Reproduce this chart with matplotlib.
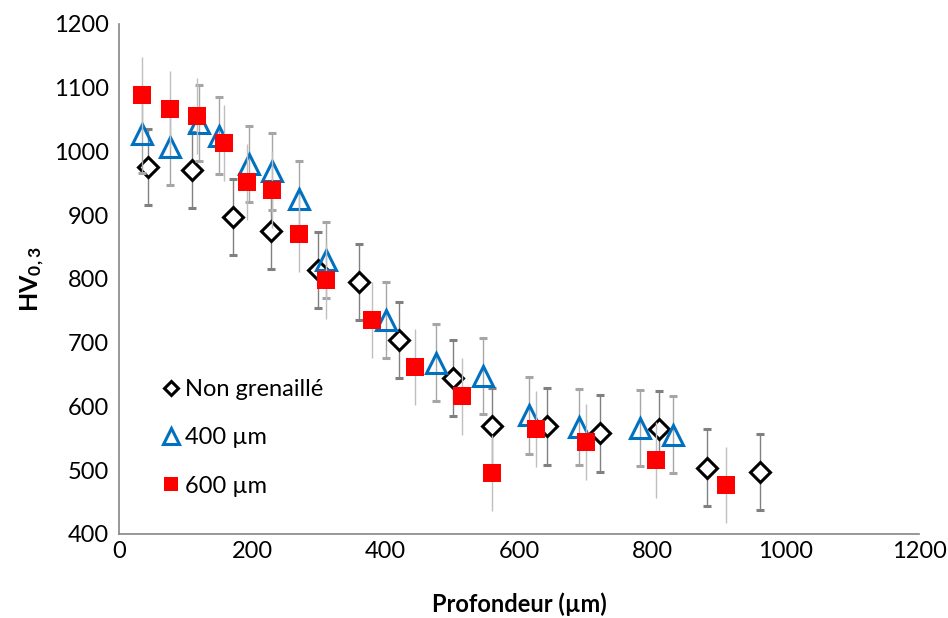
import matplotlib.pyplot as plt

plt.rcParams['font.family'] = ['Lato', 'DejaVu Sans']
plt.rcParams['mathtext.fontset'] = 'custom'
plt.rcParams['mathtext.rm'] = 'Lato'
plt.rcParams['mathtext.bf'] = 'Lato:bold'

# Non grenaillé
x_ng = [44, 110, 171, 228, 298, 360, 420, 501, 560, 642, 722, 810, 882, 962]
y_ng = [976, 971, 897, 875, 814, 795, 704, 645, 569, 569, 558, 565, 504, 497]
e_ng = [60, 60, 60, 60, 60, 60, 60, 60, 60, 60, 60, 60, 60, 60]

# 400 µm
x_400 = [35, 77, 120, 150, 195, 230, 270, 311, 401, 476, 546, 615, 690, 782, 831]
y_400 = [1027, 1007, 1045, 1025, 980, 969, 925, 830, 736, 669, 648, 586, 568, 566, 556]
e_400 = [60, 60, 60, 60, 60, 60, 60, 60, 60, 60, 60, 60, 60, 60, 60]

# 600 µm
x_600 = [35, 77, 117, 158, 192, 230, 270, 311, 380, 444, 515, 560, 626, 701, 806, 911]
y_600 = [1089, 1066, 1056, 1013, 952, 940, 871, 798, 736, 662, 616, 496, 565, 544, 516, 477]
e_600 = [60, 60, 60, 60, 60, 60, 60, 60, 60, 60, 60, 60, 60, 60, 60, 60]

fig = plt.figure(figsize=(9.48, 6.18), dpi=100)
ax = fig.add_axes([119 / 948, 1 - 534 / 618, 800 / 948, 510 / 618])

ax.errorbar(x_ng, y_ng, yerr=e_ng, fmt='D', ms=10, mfc='white', mec='black', mew=2.2,
            ecolor='#808080', elinewidth=1, capsize=3, label='Non grenaillé', zorder=3)
ax.errorbar(x_400, y_400, yerr=e_400, fmt='^', ms=15, mfc='none', mec='#0070C0', mew=2.2,
            ecolor='#a6a6a6', elinewidth=1, capsize=3, label='400 µm', zorder=4)
ax.errorbar(x_600, y_600, yerr=e_600, fmt='s', ms=13.5, mfc='#FF0000', mec='#FF0000', mew=0,
            ecolor='#bfbfbf', elinewidth=1, capsize=3, label='600 µm', zorder=5)

ax.set_xlim(0, 1200)
ax.set_ylim(400, 1200)
ax.set_xticks(range(0, 1201, 200))
ax.set_yticks(range(400, 1201, 100))
ax.tick_params(length=0, labelsize=17)
ax.tick_params(axis='x', pad=5)
ax.tick_params(axis='y', pad=7)
for s in ['top', 'right']:
    ax.spines[s].set_visible(False)
for s in ['left', 'bottom']:
    ax.spines[s].set_color('#868686')
    ax.spines[s].set_linewidth(1.2)

ax.set_xlabel('Profondeur (µm)', fontsize=17, fontweight='bold', labelpad=22)
ax.set_ylabel(r'$\mathbf{HV_{0,3}}$', fontsize=18, labelpad=5)

h, l = ax.get_legend_handles_labels()
h = [hh[0] for hh in h]
ax.legend(h, l, loc='upper left', bbox_to_anchor=(0.027, 0.345), frameon=False,
          fontsize=17, labelspacing=1.15, handlelength=0.8, handletextpad=0.2,
          markerscale=0.75)

fig.savefig('out.png', dpi=100)
